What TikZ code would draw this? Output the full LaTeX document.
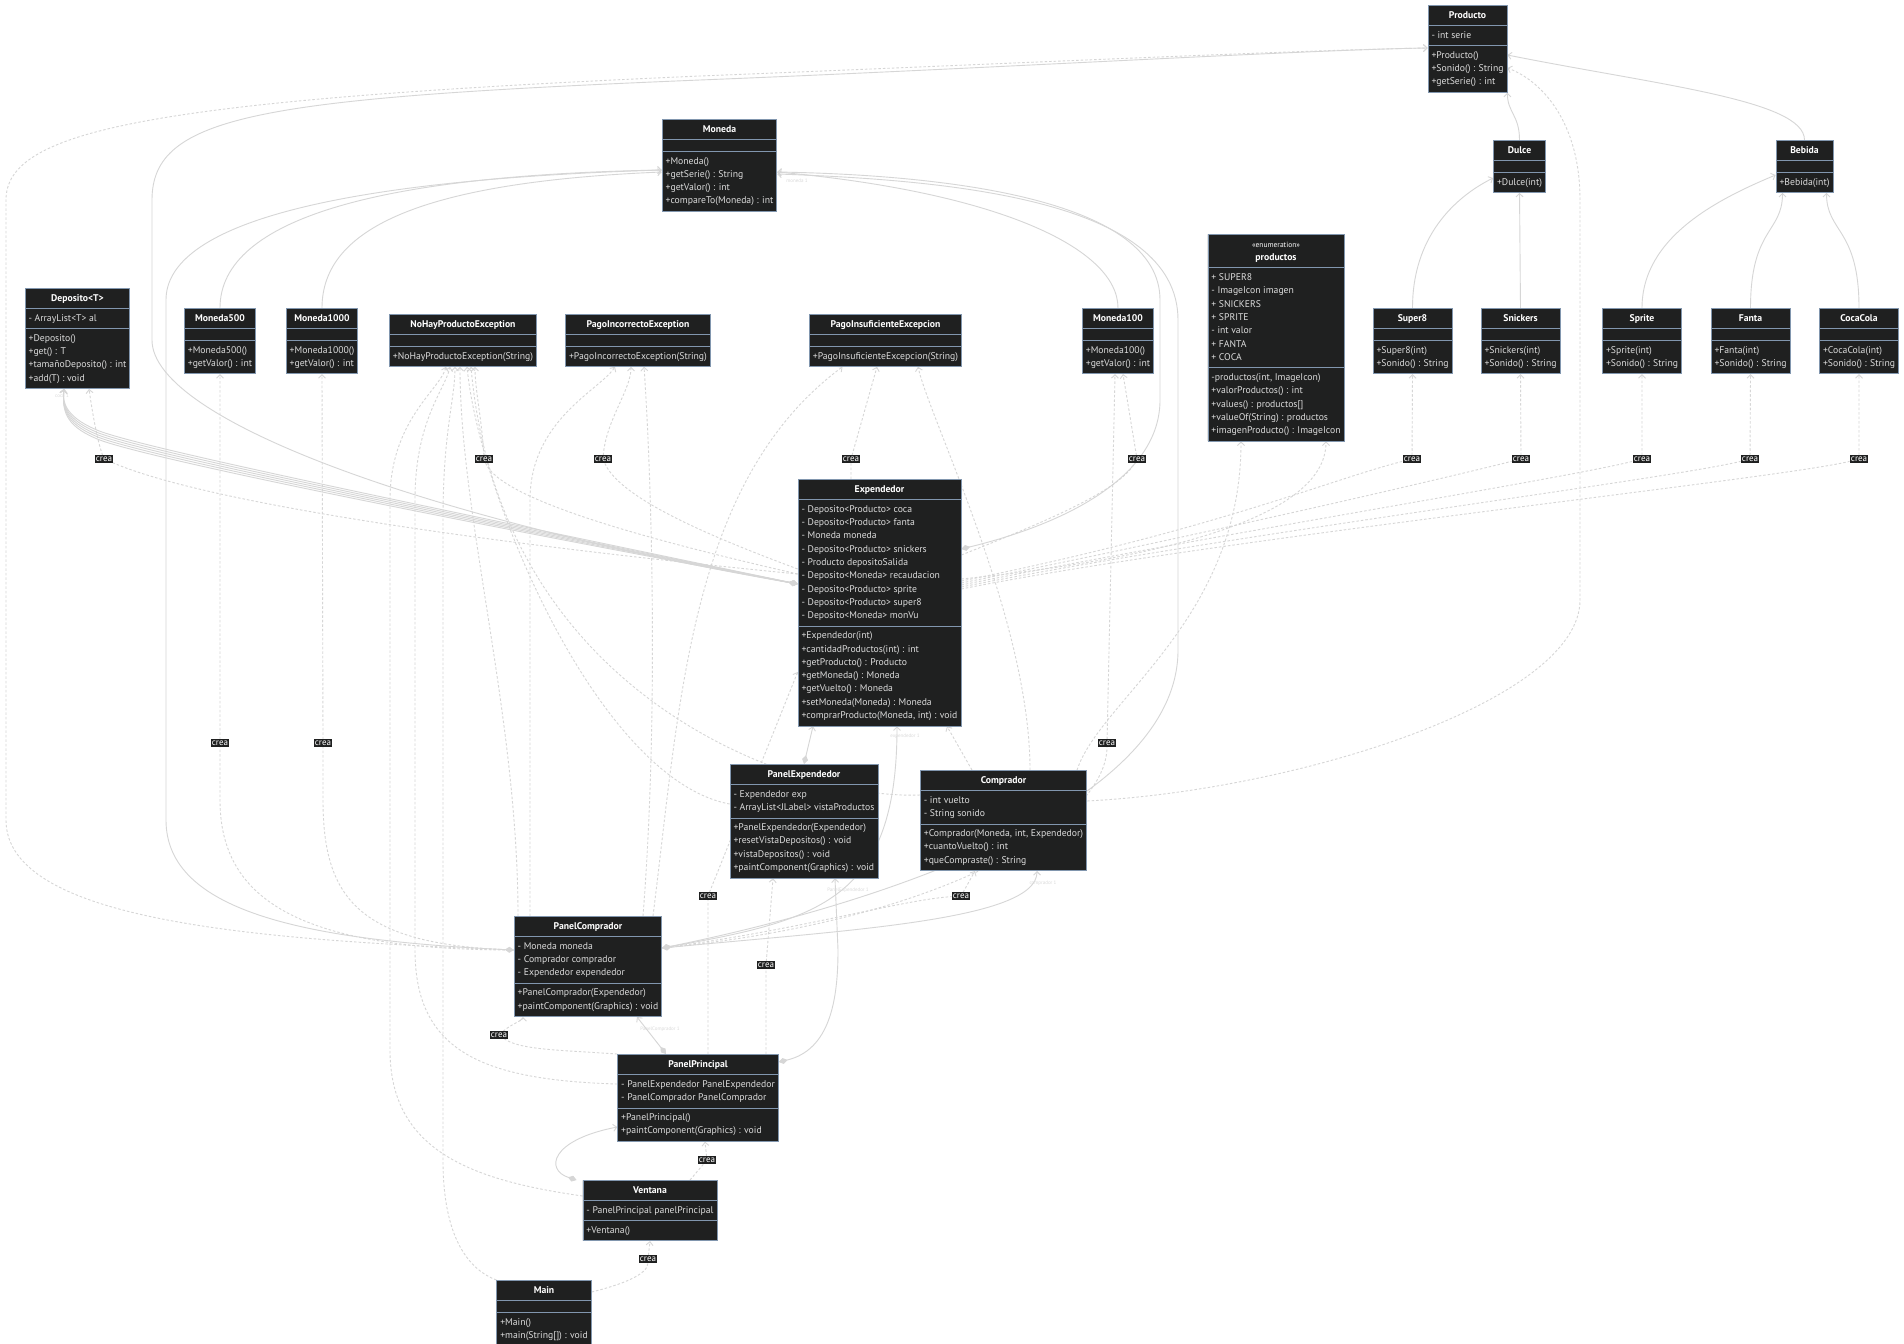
\documentclass[tikz,border=0pt]{standalone}
\usepackage{fontspec}
\setmainfont{PT Sans}
\usetikzlibrary{shapes.multipart,arrows.meta,backgrounds}

\definecolor{klassevul}{HTML}{1F2020}
\definecolor{klasserand}{HTML}{8196AE}
\definecolor{klassetekst}{HTML}{DCDCDC}
\definecolor{lijn}{HTML}{D6D6D6}
\definecolor{rolgrijs}{HTML}{DADADA}

\newcommand{\leden}[1]{\strut#1\strut}
\newcommand{\titel}[1]{\strut\textcolor{white}{\bfseries #1}}

\begin{document}
\begin{tikzpicture}[x=1pt, y=-1pt, >={Straight Barb[length=3.5pt,width=7pt]}]

% --- Stijlen ---
\tikzset{
    klasse/.style={
        rectangle split, rectangle split parts=3,
        rectangle split part align={center,left,left},
        rectangle split ignore empty parts=false,
        rectangle split empty part height=1pt,
        draw=klasserand, line width=0.8pt, fill=klassevul,
        text=klassetekst, font=\fontsize{9.7}{13.3}\selectfont,
        align=left, inner xsep=3.5pt, inner ysep=3pt, anchor=north
    },
    crea/.style={fill=klassevul, text=white, font=\fontsize{9}{9}\selectfont, inner sep=1.2pt},
    rol/.style={text=rolgrijs, font=\fontsize{5}{6}\selectfont, inner sep=0pt},
    inh/.style={draw=lijn, line width=0.9pt, ->},
    dep/.style={draw=lijn, line width=0.9pt, dash pattern=on 2.5pt off 2pt, ->},
    comp/.style={draw=lijn, line width=0.9pt, {Diamond[length=9pt,width=6pt]}->}
}

\useasboundingbox (0,0) rectangle (1904,1344);

% --- Producten (boven rechts) ---
\node[klasse] (producto) at (1467.5,5) {\titel{Producto}\nodepart{two}\leden{- int serie}\nodepart{three}\leden{+Producto()\\+Sonido() : String\\+getSerie() : int}};
\node[klasse] (dulce) at (1519.5,140) {\titel{Dulce}\nodepart{two}\nodepart{three}\leden{+Dulce(int)}};
\node[klasse] (bebida) at (1804.5,140) {\titel{Bebida}\nodepart{two}\nodepart{three}\leden{+Bebida(int)}};
\node[klasse] (super8) at (1412.5,308) {\titel{Super8}\nodepart{two}\nodepart{three}\leden{+Super8(int)\\+Sonido() : String}};
\node[klasse] (snickers) at (1520.5,308) {\titel{Snickers}\nodepart{two}\nodepart{three}\leden{+Snickers(int)\\+Sonido() : String}};
\node[klasse] (sprite) at (1642,308) {\titel{Sprite}\nodepart{two}\nodepart{three}\leden{+Sprite(int)\\+Sonido() : String}};
\node[klasse] (fanta) at (1750.5,308) {\titel{Fanta}\nodepart{two}\nodepart{three}\leden{+Fanta(int)\\+Sonido() : String}};
\node[klasse] (cocacola) at (1859,308) {\titel{CocaCola}\nodepart{two}\nodepart{three}\leden{+CocaCola(int)\\+Sonido() : String}};
\node[klasse] (productos) at (1276,234) {{\color{white}\begin{tabular}{@{}c@{}}{\fontsize{7.5}{9}\selectfont «enumeration»}\\\textbf{productos}\end{tabular}}\nodepart{two}\leden{+ SUPER8\\- ImageIcon imagen\\+ SNICKERS\\+ SPRITE\\- int valor\\+ FANTA\\+ COCA}\nodepart{three}\leden{-productos(int, ImageIcon)\\+valorProductos() : int\\+values() : productos[]\\+valueOf(String) : productos\\+imagenProducto() : ImageIcon}};

% --- Monedas ---
\node[klasse] (moneda) at (719.5,119) {\titel{Moneda}\nodepart{two}\nodepart{three}\leden{+Moneda()\\+getSerie() : String\\+getValor() : int\\+compareTo(Moneda) : int}};
\node[klasse] (moneda500) at (220,308) {\titel{Moneda500}\nodepart{two}\nodepart{three}\leden{+Moneda500()\\+getValor() : int}};
\node[klasse] (moneda1000) at (322,308) {\titel{Moneda1000}\nodepart{two}\nodepart{three}\leden{+Moneda1000()\\+getValor() : int}};
\node[klasse] (moneda100) at (1118,308) {\titel{Moneda100}\nodepart{two}\nodepart{three}\leden{+Moneda100()\\+getValor() : int}};
\node[klasse] (deposito) at (77.5,288) {\titel{Deposito<T>}\nodepart{two}\leden{- ArrayList<T> al}\nodepart{three}\leden{+Deposito()\\+get() : T\\+tamañoDeposito() : int\\+add(T) : void}};

% --- Excepciones ---
\node[klasse] (nohay) at (463,314) {\titel{NoHayProductoException}\nodepart{two}\nodepart{three}\leden{+NoHayProductoException(String)}};
\node[klasse] (pagoinc) at (638,314) {\titel{PagoIncorrectoException}\nodepart{two}\nodepart{three}\leden{+PagoIncorrectoException(String)}};
\node[klasse] (pagoins) at (885.5,314) {\titel{PagoInsuficienteExcepcion}\nodepart{two}\nodepart{three}\leden{+PagoInsuficienteExcepcion(String)}};

% --- Midden: Expendedor, panelen ---
\node[klasse] (expendedor) at (879.5,479) {\titel{Expendedor}\nodepart{two}\leden{- Deposito<Producto> coca\\- Deposito<Producto> fanta\\- Moneda moneda\\- Deposito<Producto> snickers\\- Producto depositoSalida\\- Deposito<Moneda> recaudacion\\- Deposito<Producto> sprite\\- Deposito<Producto> super8\\- Deposito<Moneda> monVu}\nodepart{three}\leden{+Expendedor(int)\\+cantidadProductos(int) : int\\+getProducto() : Producto\\+getMoneda() : Moneda\\+getVuelto() : Moneda\\+setMoneda(Moneda) : Moneda\\+comprarProducto(Moneda, int) : void}};
\node[klasse] (panelexp) at (804,764) {\titel{PanelExpendedor}\nodepart{two}\leden{- Expendedor exp\\- ArrayList<JLabel> vistaProductos}\nodepart{three}\leden{+PanelExpendedor(Expendedor)\\+resetVistaDepositos() : void\\+vistaDepositos() : void\\+paintComponent(Graphics) : void}};
\node[klasse] (comprador) at (1003.5,770) {\titel{Comprador}\nodepart{two}\leden{- int vuelto\\- String sonido}\nodepart{three}\leden{+Comprador(Moneda, int, Expendedor)\\+cuantoVuelto() : int\\+queCompraste() : String}};
\node[klasse] (panelcomp) at (588,916) {\titel{PanelComprador}\nodepart{two}\leden{- Moneda moneda\\- Comprador comprador\\- Expendedor expendedor}\nodepart{three}\leden{+PanelComprador(Expendedor)\\+paintComponent(Graphics) : void}};
\node[klasse] (panelprin) at (698,1054) {\titel{PanelPrincipal}\nodepart{two}\leden{- PanelExpendedor PanelExpendedor\\- PanelComprador PanelComprador}\nodepart{three}\leden{+PanelPrincipal()\\+paintComponent(Graphics) : void}};
\node[klasse] (ventana) at (650,1180) {\titel{Ventana}\nodepart{two}\leden{- PanelPrincipal panelPrincipal}\nodepart{three}\leden{+Ventana()}};
\node[klasse] (main) at (544,1280) {\titel{Main}\nodepart{two}\nodepart{three}\leden{+Main()\\+main(String[]) : void}};

% --- crea labels ---
\node[crea] (c1) at (104,459) {crea};
\node[crea] (c2) at (484,459) {crea};
\node[crea] (c3) at (603,459) {crea};
\node[crea] (c4) at (851,459) {crea};
\node[crea] (c5) at (1137,459) {crea};
\node[crea] (c6) at (1412,459) {crea};
\node[crea] (c7) at (1521,459) {crea};
\node[crea] (c8) at (1642,459) {crea};
\node[crea] (c9) at (1750,459) {crea};
\node[crea] (c10) at (1859,459) {crea};
\node[crea] (c11) at (220,743) {crea};
\node[crea] (c12) at (323,743) {crea};
\node[crea] (c13) at (1107,743) {crea};
\node[crea] (c14) at (708,896) {crea};
\node[crea] (c15) at (961,896) {crea};
\node[crea] (c16) at (766,965) {crea};
\node[crea] (c17) at (499,1035) {crea};
\node[crea] (c18) at (707,1160) {crea};
\node[crea] (c19) at (648,1259) {crea};

% rollen (zeer licht)
\node[rol] (r1) at (797,181) {moneda 1};
\node[rol] (r2) at (62,396) {coca 1};
\node[rol] (r3) at (905,736) {expendedor 1};
\node[rol] (r4) at (848,890) {PanelExpendedor 1};
\node[rol] (r5) at (1043,883) {comprador 1};
\node[rol] (r6) at (660,1029) {PanelComprador 1};

\begin{pgfonlayer}{background}
\fill[white] (0,0) rectangle (1904,1344);

% ==========================================
% --- Overerving ---
% ==========================================
\draw[inh] (dulce.north) .. controls +(0,-25) and +(0,20) .. (producto.south east);
\draw[inh] (bebida.north) .. controls +(0,-40) and +(150,30) .. ([yshift=-50pt]producto.north east);
\draw[inh] (super8.north) .. controls +(0,-70) and +(-40,20) .. ([yshift=-38pt]dulce.north west);
\draw[inh] (snickers.north) -- (dulce.south);
\draw[inh] (sprite.north) .. controls +(0,-70) and +(-60,25) .. ([yshift=-35pt]bebida.north west);
\draw[inh] (fanta.north) .. controls +(0,-80) and +(0,40) .. ([xshift=-22pt]bebida.south);
\draw[inh] (cocacola.north) .. controls +(0,-80) and +(0,40) .. ([xshift=22pt]bebida.south);
\draw[inh] (moneda500.north) .. controls +(0,-90) and +(-280,5) .. ([yshift=-51pt]moneda.north west);
\draw[inh] (moneda1000.north) .. controls +(0,-80) and +(-240,10) .. ([yshift=-53pt]moneda.north west);
\draw[inh] (moneda100.north) .. controls +(0,-60) and +(220,20) .. ([yshift=-53pt]moneda.north east);

% ==========================================
% --- Associaties (lange lijnen links) ---
% ==========================================
\draw[comp] ([yshift=-105pt]expendedor.north west) .. controls (430,520) and (152,420) .. (152,340) -- (152,200) .. controls (152,115) and (260,98) .. (700,80) .. controls (1000,68) and (1300,50) .. ([yshift=-43pt]producto.north west);
\draw[dep] ([yshift=-34pt]panelcomp.north west) .. controls (250,940) and (6,920) .. (6,820) -- (6,200) .. controls (6,130) and (150,100) .. (700,76) .. controls (1000,64) and (1300,50) .. ([yshift=-43pt]producto.north west);
\draw[comp] ([yshift=-34pt]panelcomp.north west) .. controls (300,940) and (166,910) .. (166,820) -- (166,300) .. controls (166,225) and (330,180) .. ([yshift=-51pt]moneda.north west);

% Deposito bundel
\foreach \k in {0,...,4} {
    \draw[comp, yshift=\k*2.2pt] ([yshift=-105pt]expendedor.north west) .. controls (450,520) and (130,455) .. (95,438) .. controls (65,425) and (62,410) .. ([xshift=-13.5pt]deposito.south);
}

% ==========================================
% --- crea vanuit Expendedor ---
% ==========================================
\draw[dep] ([yshift=-95pt]expendedor.north west) .. controls (450,540) and (200,500) .. (c1) .. controls (97,440) and (92,410) .. ([xshift=11.5pt]deposito.south);
\draw[dep] ([yshift=-95pt]expendedor.north west) .. controls (650,540) and (500,500) .. (c2) .. controls (482,420) and (475,390) .. ([xshift=12pt]nohay.south);
\draw[dep] ([yshift=-90pt]expendedor.north west) .. controls (720,540) and (620,500) .. (c3) .. controls (606,420) and (631,390) .. ([xshift=-7pt]pagoinc.south);
\draw[dep] ([xshift=-28.5pt]expendedor.north) -- (c4) -- ([xshift=-8.5pt]pagoins.south);
\draw[dep] ([yshift=-76pt]expendedor.north east) .. controls (1050,520) and (1120,490) .. (c5) -- ([xshift=5pt]moneda100.south);
\draw[dep] ([yshift=-100pt]expendedor.north east) .. controls (1150,560) and (1326,520) .. ([xshift=50pt]productos.south);
\foreach \doel/\lbl/\dy in {super8/c6/102, snickers/c7/104, sprite/c8/106, fanta/c9/108, cocacola/c10/110} {
    \draw[dep] ([yshift=-\dy pt]expendedor.north east) .. controls +(250,-50) and +(-80,20) .. (\lbl) -- (\doel.south);
}

% Moneda -> Expendedor en PanelComprador
\draw[comp] ([yshift=-70pt]expendedor.north east) .. controls (1080,520) and (1160,470) .. (1160,400) -- (1160,300) .. controls (1160,200) and (950,175) .. ([yshift=-53pt]moneda.north east);
\draw[comp] ([yshift=-32pt]panelcomp.north east) .. controls (900,900) and (1178,800) .. (1178,650) -- (1178,320) .. controls (1178,200) and (950,180) .. ([yshift=-55pt]moneda.north east);

% ==========================================
% --- PanelComprador ---
% ==========================================
\draw[dep] ([yshift=-34pt]panelcomp.north west) .. controls (300,950) and (220,900) .. (220,800) -- (c11) -- (moneda500.south);
\draw[dep] ([yshift=-34pt]panelcomp.north west) .. controls (360,945) and (323,900) .. (323,800) -- (c12) -- (moneda1000.south);
\draw[dep] ([yshift=-32pt]panelcomp.north east) .. controls (950,920) and (1107,820) .. (c13) -- ([xshift=-3pt]moneda100.south);
\draw[dep] ([yshift=-32pt]panelcomp.north east) .. controls (800,930) and (900,900) .. (c15) -- ([xshift=-28.5pt]comprador.south);
\draw[comp] ([yshift=-32pt]panelcomp.north east) .. controls (850,930) and (1037,920) .. ([xshift=33.5pt]comprador.south);
\draw[comp] ([yshift=-32pt]panelcomp.north east) .. controls (820,920) and (897,900) .. ([xshift=17.5pt]expendedor.south);
\draw[dep] ([xshift=-70pt]panelcomp.north) .. controls +(0,-200) and +(0,150) .. ([xshift=-3pt]nohay.south);
\draw[dep] ([xshift=-58pt]panelcomp.north) -- (530,500) .. controls (530,420) and (600,390) .. ([xshift=-23pt]pagoinc.south);
\draw[dep] ([xshift=55pt]panelcomp.north) .. controls (660,700) and (650,450) .. ([xshift=6pt]pagoinc.south);
\draw[dep] ([xshift=65pt]panelcomp.north) .. controls (680,700) and (690,480) .. ([xshift=-43pt]pagoins.south);

% ==========================================
% --- PanelExpendedor, Comprador ---
% ==========================================
\draw[comp] (panelexp.north) -- ([xshift=-66.5pt]expendedor.south);
\draw[dep] ([yshift=-40pt]panelexp.north west) .. controls (600,780) and (480,500) .. ([xshift=4pt]nohay.south);
\draw[dep] ([yshift=-25pt]comprador.north west) .. controls (800,800) and (500,700) .. ([xshift=8pt]nohay.south);
\draw[dep] ([xshift=26.5pt]comprador.north) .. controls (1030,620) and (930,420) .. ([xshift=32.5pt]pagoins.south);
\draw[dep] ([xshift=-31.5pt]comprador.north) -- ([xshift=67.5pt]expendedor.south);
\draw[dep] ([xshift=-10pt]comprador.north east) .. controls (1100,700) and (1241,620) .. ([xshift=-35pt]productos.south);
\draw[dep] ([yshift=-31pt]comprador.north east) .. controls (1300,790) and (1580,700) .. (1580,600) -- (1580,200) .. controls (1580,120) and (1540,80) .. ([yshift=-63pt]producto.north east);

% ==========================================
% --- PanelPrincipal, Ventana, Main ---
% ==========================================
\draw[comp] ([xshift=-32pt]panelprin.north) -- ([xshift=49pt]panelcomp.south);
\draw[comp] ([yshift=-8pt]panelprin.north east) .. controls (830,1050) and (838,1000) .. (838,950) -- ([xshift=31pt]panelexp.south);
\draw[dep] ([xshift=10pt]panelprin.north) -- (c14) -- ([yshift=-193pt]expendedor.north west);
\draw[dep] ([xshift=68pt]panelprin.north) -- (c16) -- ([xshift=-31pt]panelexp.south);
\draw[dep] (panelprin.north west) .. controls (560,1050) and (520,1050) .. (c17) .. controls (510,1025) and (523,1020) .. ([xshift=-65pt]panelcomp.south);
\draw[dep] ([yshift=-30pt]panelprin.north west) .. controls (480,1080) and (415,1050) .. (415,950) -- (415,500) .. controls (415,420) and (445,390) .. ([xshift=-13pt]nohay.south);
\draw[comp] ([xshift=-6pt]ventana.north west) .. controls (545,1170) and (550,1140) .. ([yshift=-73pt]panelprin.north west);
\draw[dep] ([xshift=40pt]ventana.north) -- (c18) -- ([xshift=7pt]panelprin.south);
\draw[dep] ([yshift=-16pt]ventana.north west) .. controls (470,1180) and (390,1150) .. (390,1050) -- (390,500) .. controls (390,420) and (440,390) .. ([xshift=-17pt]nohay.south);
\draw[dep] ([yshift=-12pt]main.north east) .. controls (620,1285) and (648,1275) .. (c19) -- (ventana.south);
\draw[dep] (main.north west) .. controls (470,1270) and (443,1240) .. (443,1160) -- (443,520) .. controls (443,430) and (455,400) .. ([xshift=-8pt]nohay.south);
\end{pgfonlayer}

\end{tikzpicture}
\end{document}
